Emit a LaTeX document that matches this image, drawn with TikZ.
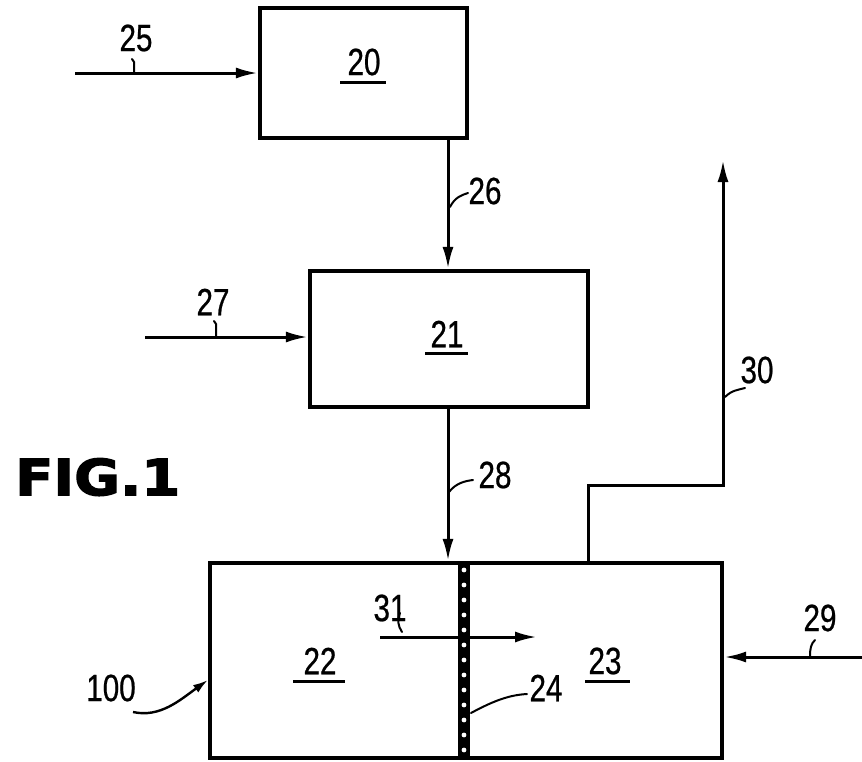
\documentclass[tikz,border=0pt]{standalone}
\usepackage{fontspec}
\usetikzlibrary{arrows.meta}
\newfontfamily\labfont[FakeStretch=0.78,FakeBold=0.6]{Liberation Sans}
\newfontfamily\figfont[FakeBold=2.5]{DejaVu Sans}
\tikzset{
  boxnode/.style={draw, line width=4.2pt, rectangle, inner sep=0pt},
  flow/.style={line width=3pt, -{Latex[length=22pt,width=11pt]}},
  leader/.style={line width=2pt, line cap=round},
  lab/.style={font=\labfont\fontsize{38}{40}\selectfont, inner sep=0pt},
  uline/.style={line width=3pt}
}
\begin{document}
\begin{tikzpicture}[x=1pt,y=-1pt]
\useasboundingbox (0,0) rectangle (862,761);
% boxes
\node[boxnode, minimum width=207pt, minimum height=130pt] (b20) at (363.5,73) {};
\node[boxnode, minimum width=278pt, minimum height=136pt] (b21) at (449,339) {};
\node[boxnode, minimum width=254pt, minimum height=195pt] (b22) at (337,660.5) {};
\node[boxnode, minimum width=258pt, minimum height=195pt] (b23) at (593,660.5) {};
% membrane 24
\fill[black] (458,561) rectangle (470,759);
\foreach \yy in {570,585,...,755} { \fill[white] (464,\yy) circle (2.4); }
% coordinates
\coordinate (s25) at (75,73);
\coordinate (c26) at (448,0);
\coordinate (s27) at (145,337);
\coordinate (c28) at (448,0);
\coordinate (c30) at (588,0);
\coordinate (k30) at (723,485);
\coordinate (e30) at (723,160);
\coordinate (s29) at (862,657);
\coordinate (s31) at (380,637);
\coordinate (e31) at (537,637);
\coordinate (s100) at (133,712);
\coordinate (e100) at (0,680);
% flows
\draw[flow] (s25) -- (b20.west |- s25);
\draw[flow] (b20.south -| c26) -- (b21.north -| c26);
\draw[flow] (s27) -- (b21.west |- s27);
\draw[flow] (b21.south -| c28) -- (b22.north -| c28);
\draw[flow] (b23.north -| c30) |- (k30) -- (e30);
\draw[flow] (s29) -- (b23.east |- s29);
\draw[flow] (s31) -- (e31);
\draw[line width=2.4pt, -{Latex[length=15pt,width=9pt]}] (s100) .. controls (160,718) and (180,700) .. (b22.west |- e100);
% labels
\node[lab] (l20) at (364,62) {20};
\draw[uline] (340,82) -- (386,82);
\node[lab] (l21) at (447,334) {21};
\draw[uline] (425,353) -- (468,353);
\node[lab] (l22) at (320,661) {22};
\draw[uline] (293,681) -- (345,681);
\node[lab] (l23) at (605,661) {23};
\draw[uline] (585,681) -- (630,681);
\node[lab] (l25) at (136,38) {25};
\node[lab] (l26) at (485,191) {26};
\node[lab] (l27) at (213,302) {27};
\node[lab] (l28) at (495,475) {28};
\node[lab] (l29) at (820,618) {29};
\node[lab] (l30) at (757,370) {30};
\node[lab] (l31) at (390,608) {31};
\node[lab] (l24) at (546,688) {24};
\node[lab] (l100) at (111,688) {100};
% leaders
\draw[leader] (134,73) -- (134,62) -- (132,59);
\draw[leader] (450,207) .. controls (455,197) and (462,195) .. (468,193);
\draw[leader] (216,337) -- (216,324) -- (214,321);
\draw[leader] (449,492) .. controls (456,483) and (465,481) .. (473,480);
\draw[leader] (725,397) .. controls (732,390) and (738,390) .. (745,388);
\draw[leader] (810,657) .. controls (810,648) and (811,644) .. (815,640);
\draw[leader] (402,632) .. controls (398,626) and (397,620) .. (400,613);
\draw[leader] (471,713) .. controls (495,700) and (510,695) .. (527,694);
% FIG.1
\node[inner sep=0pt, anchor=north west] (fig) at (15,458) {\resizebox{165pt}{37pt}{\figfont\bfseries FIG.1}};
\end{tikzpicture}
\end{document}
